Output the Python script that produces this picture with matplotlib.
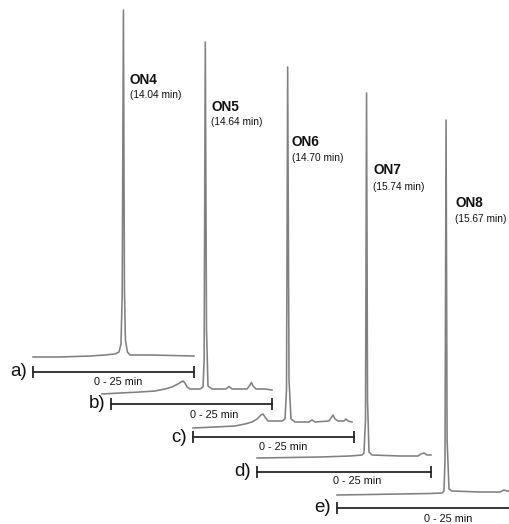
import matplotlib
matplotlib.use('Agg')
import matplotlib.pyplot as plt

plt.rcParams['font.family'] = ['Liberation Sans', 'DejaVu Sans']

W, H = 509, 524

# chromatogram traces: time (min) and signal (arbitrary units, baseline ~0)
a_t = [0.0, 4.19, 8.85, 11.18, 12.73, 13.35, 13.66, 13.85, 14.04, 14.2, 14.35, 14.66, 15.06, 18.17, 25.0]
a_s = [-1, -1, 0, 1, 2, 4, 12, 60, 346, 66, 16, 4, 1, 1, 0]

b_t = [-1.40, 1.40, 4.50, 6.83, 8.39, 9.47, 10.40, 10.87, 11.18, 11.49, 11.80, 12.27, 13.82, 14.29,
       14.46, 14.64, 14.83, 15.06, 15.68, 17.86, 18.32, 18.79, 21.12, 21.58, 21.82, 22.05, 22.52, 23.91, 25.0]
b_s = [-5, -4, -3, -2, 0, 2, 5, 7, 8, 6, 2, 0, 0, 2,
       29, 347, 59, 3, 0, 0, 2.5, 0, 0, 4, 6.5, 3, 0, 0, -1]

c_t = [0.0, 3.42, 6.52, 8.07, 9.16, 9.94, 10.56, 10.87, 11.18, 11.65, 13.82, 14.29, 14.52, 14.70,
       14.91, 15.22, 15.84, 18.01, 18.48, 18.94, 21.12, 21.43, 21.74, 22.05, 22.52, 23.45, 23.76, 24.07, 24.69]
c_s = [-6, -5, -4, -2, 0, 3, 7, 8, 5, 1, 1, 3, 32, 355,
       42, 3, 0, 0, 2, 0, 1, 4, 7, 3, 1, 1, 3, 1, 0]

d_t = [0.0, 4.74, 9.05, 13.36, 15.09, 15.37, 15.59, 15.74, 15.88, 16.09, 16.52, 20.55, 23.13, 23.56, 23.99, 24.43, 25.0]
d_s = [-1, -0.5, 0, 1, 2, 4, 37, 364, 57, 5, 2, 1, 1, 3, 4, 2, 2]

e_t = [0.0, 4.74, 9.05, 13.36, 15.09, 15.37, 15.52, 15.67, 15.82, 16.09, 16.52, 20.55, 23.42, 24.0, 24.43, 25.14]
e_s = [-1, -0.5, 0, 0.5, 1, 3, 34, 374, 54, 5, 3, 2, 2, 4, 3, 3]

letters = ['a)', 'b)', 'c)', 'd)', 'e)']
names = ['ON4', 'ON5', 'ON6', 'ON7', 'ON8']
ret_times = ['(14.04 min)', '(14.64 min)', '(14.70 min)', '(15.74 min)', '(15.67 min)']
range_label = '0 - 25 min'
run_length = 25

traces = [(a_t, a_s), (b_t, b_s), (c_t, c_s), (d_t, d_s), (e_t, e_s)]

# layout in pixels: bar start x, bar length, baseline y, bar y
panel_x0 = [33, 111, 193, 257, 337]
panel_len = [161, 161, 161, 174, 174]
panel_base = [356, 389, 422, 457, 494]
panel_bar = [372, 404, 437, 472, 508]
label_pos = [(130, 80, 95), (211, 107, 122), (292, 142, 158), (373, 170, 187), (455, 203, 219)]
range_pos = [(118, 382), (214, 415), (283, 447), (357, 481), (448, 519)]

trace_col = '#808080'
bar_col = '#262626'
text_col = '#111111'

fig = plt.figure(figsize=(W / 100, H / 100), dpi=100)
fig.patch.set_facecolor('white')

for i, (t, s) in enumerate(traces):
    x0, L, base, bar = panel_x0[i], panel_len[i], panel_base[i], panel_bar[i]
    top = max(s) + 4
    bottom = -(bar - base) - 10
    ax = fig.add_axes([x0 / W, 1 - (base - bottom) / H, L / W, (top - bottom) / H])
    ax.set_xlim(0, run_length)
    ax.set_ylim(bottom, top)
    ax.axis('off')
    ax.patch.set_alpha(0)
    ax.plot(t, s, color=trace_col, lw=1.15, clip_on=False, solid_joinstyle='round')
    yb = -(bar - base)
    ax.plot([0, run_length], [yb, yb], color=bar_col, lw=1.3, clip_on=False)
    ax.plot([0, run_length], [yb, yb], ls='none', marker='|', ms=8, mew=1.3,
            color=bar_col, clip_on=False)
    fig.text((x0 - 6) / W, 1 - bar / H, letters[i], ha='right', va='center',
             fontsize=13.5, color=text_col)
    rx, ry = range_pos[i]
    fig.text(rx / W, 1 - ry / H, range_label, ha='center', va='center',
             fontsize=7.8, color=text_col)
    lx, ly, ty = label_pos[i]
    fig.text(lx / W, 1 - ly / H, names[i], ha='left', va='center',
             fontsize=9.8, fontweight='bold', color=text_col)
    fig.text(lx / W, 1 - ty / H, ret_times[i], ha='left', va='center',
             fontsize=7.3, color=text_col)

fig.savefig('out.png', dpi=100, facecolor='white')
